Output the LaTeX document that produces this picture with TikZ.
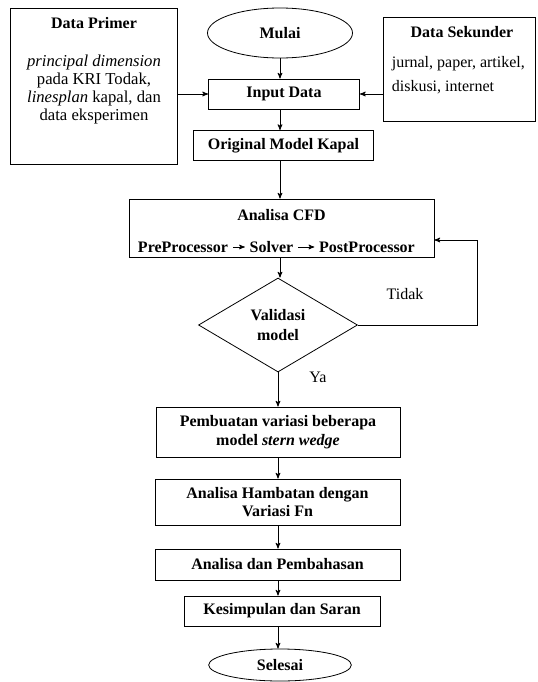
\documentclass[tikz,border=0pt]{standalone}
\usepackage{fontspec}
\setmainfont{Liberation Serif}
\usetikzlibrary{arrows,shapes.geometric}

\begin{document}
\begin{tikzpicture}[>=stealth',x=0.75pt,y=-0.75pt,line width=0.6pt,
    font=\fontsize{12}{14}\selectfont,
    box/.style={draw,rectangle,align=center,font=\fontsize{12}{14}\selectfont\bfseries},
    term/.style={draw,ellipse,font=\fontsize{12}{14}\selectfont\bfseries},
    decision/.style={draw,diamond,align=center,inner sep=0pt,font=\fontsize{12}{15}\selectfont\bfseries},
    title/.style={font=\fontsize{12}{14}\selectfont\bfseries}]
    \useasboundingbox (0,0) rectangle (537,682);

    % sources
    \node[draw,minimum width=125.25pt,minimum height=117pt] (primer) at (93.5,86) {};
    \node[title]                     (primertxt) at (94,23)  {Data Primer};
    \node[align=center,font=\fontsize{12.5}{13.3}\selectfont] (primerbody) at (94,89.5)
        {\textit{principal dimension}\\pada KRI Todak,\\\textit{linesplan} kapal, dan\\data eksperimen};
    \node[draw,minimum width=114pt,minimum height=78pt] (sekunder) at (459,69) {};
    \node[title]                     (sekundertxt) at (462,32) {Data Sekunder};
    \node[align=left,anchor=west,font=\fontsize{12}{18}\selectfont] (sekunderbody) at (387,75)
        {jurnal, paper, artikel,\\diskusi, internet};

    % main flow
    \node[term,minimum width=108.75pt,minimum height=37.5pt] (mulai)   at (280,33)    {Mulai};
    \node[box,minimum width=113.25pt,minimum height=22.5pt]  (input)   at (284,94)    {Input Data};
    \node[box,minimum width=135pt,minimum height=22.5pt]     (orig)    at (283.5,145.5) {Original Model Kapal};
    \node[box,minimum width=228.75pt,minimum height=43.5pt]  (cfd)     at (281.5,228) {};
    \node[title]                     (cfdtxt) at (281.5,215) {Analisa CFD};
    \node[title]                     (pre)    at (183,247)   {PreProcessor};
    \node[title]                     (solver) at (271.5,247) {Solver};
    \node[title]                     (post)   at (367,247)   {PostProcessor};
    \node[decision,minimum width=119.25pt,minimum height=70.5pt] (valid) at (278,325) {Validasi\\model};
    \node[box,minimum width=183pt,minimum height=37.5pt]     (variasi) at (278,432)   {Pembuatan variasi beberapa\\model \textit{stern wedge}};
    \node[box,minimum width=183.75pt,minimum height=34.5pt]  (hambatan) at (277.5,502) {Analisa Hambatan dengan\\Variasi Fn};
    \node[box,minimum width=183.75pt,minimum height=23.25pt] (bahas)   at (277.5,564.5) {Analisa dan Pembahasan};
    \node[box,minimum width=147pt,minimum height=22.5pt]     (simpul)  at (282,611)   {Kesimpulan dan Saran};
    \node[term,minimum width=107pt,minimum height=24pt]      (selesai) at (280,665)   {Selesai};

    \node (tidak) at (405,294) {Tidak};
    \node (ya)    at (318,377) {Ya};
    \coordinate (back) at (477,240);

    \path[->] (mulai)               edge (mulai |- input.north)
              (mulai |- input.south) edge (mulai |- orig.north)
              (mulai |- orig.south)  edge (mulai |- cfd.north)
              (mulai |- cfd.south)   edge (mulai |- valid.north)
              (valid)    edge (valid |- variasi.north)
              (valid |- variasi.south)  edge (valid |- hambatan.north)
              (valid |- hambatan.south) edge (valid |- bahas.north)
              (valid |- bahas.south)    edge (valid |- simpul.north)
              (valid |- simpul.south)   edge (valid |- selesai.north)
              (pre)      edge (solver)
              (solver)   edge (post);
    \draw[->] (primer.east |- input) -- (input);
    \draw[->] (sekunder.west |- input) -- (input);
    \draw[->] (valid.east) -| (back) -- (back -| cfd.east);

\end{tikzpicture}
\end{document}
